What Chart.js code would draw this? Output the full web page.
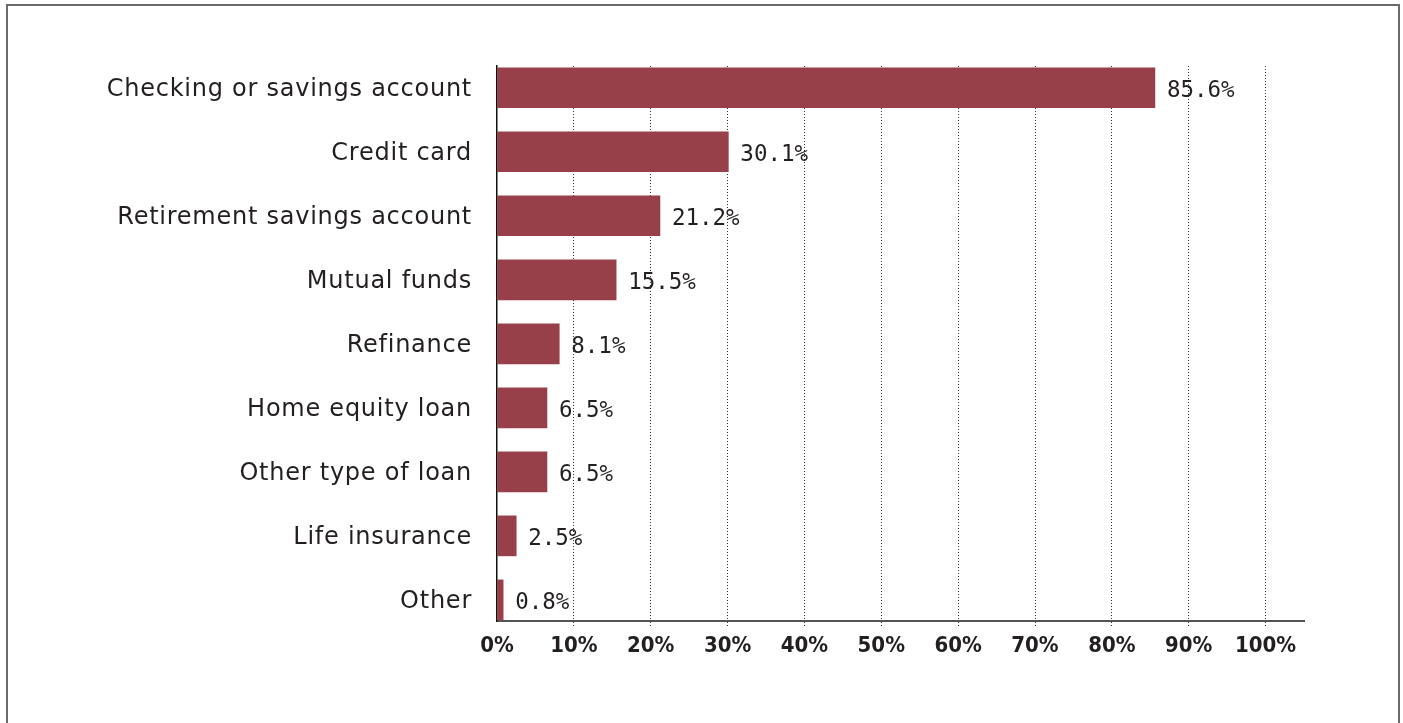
<!DOCTYPE html>
<html>
<head>
<meta charset="utf-8">
<script src="https://cdn.jsdelivr.net/npm/chart.js@4"></script>
<style>
  html, body { margin: 0; padding: 0; background: #fff; }
  body { width: 1403px; height: 723px; position: relative; overflow: hidden; }
  #frame {
    position: absolute; left: 6px; top: 4px; width: 1394px; height: 730px;
    border: 2px solid #6b6b6b; border-bottom: none; box-sizing: border-box;
  }
  #wrap { position: absolute; left: 0; top: 0; width: 1403px; height: 723px; }
</style>
</head>
<body>
<div id="frame"></div>
<div id="wrap"><canvas id="c" width="1403" height="723"></canvas></div>
<script>
// Products used, share of respondents (%)
const categories = [
  'Checking or savings account',
  'Credit card',
  'Retirement savings account',
  'Mutual funds',
  'Refinance',
  'Home equity loan',
  'Other type of loan',
  'Life insurance',
  'Other'
];
const shares = [85.6, 30.1, 21.2, 15.5, 8.1, 6.5, 6.5, 2.5, 0.8];
const tickValues = [0, 10, 20, 30, 40, 50, 60, 70, 80, 90, 100];

const BAR_COLOR = '#974049';
const TEXT_COLOR = '#231f20';
const GRID_COLOR = '#333333';

// Value labels drawn just past the end of each bar; afterwards the
// category labels (drawn in a later layer) get a slightly wider tracking.
const valueLabels = {
  id: 'valueLabels',
  afterDatasetsDraw(chart) {
    const { ctx } = chart;
    const meta = chart.getDatasetMeta(0);
    ctx.save();
    ctx.font = '22.5px "DejaVu Sans Mono", monospace';
    ctx.fillStyle = TEXT_COLOR;
    ctx.textAlign = 'left';
    ctx.textBaseline = 'middle';
    meta.data.forEach((bar, i) => {
      ctx.fillText(shares[i].toFixed(1) + '%', bar.x + 12, bar.y + 3);
    });
    ctx.restore();
    ctx.letterSpacing = '0.75px';
  },
  afterDraw(chart) {
    chart.ctx.letterSpacing = '0px';
  }
};

const points = shares.map((v, i) => ({ x: v, y: i }));
const hideZero = ctx => (ctx.tick && ctx.tick.value === 0) ? 'rgba(0,0,0,0)' : GRID_COLOR;

new Chart(document.getElementById('c'), {
  type: 'bar',
  data: {
    datasets: [{
      data: points,
      backgroundColor: BAR_COLOR,
      borderWidth: 0,
      barThickness: 40
    }]
  },
  options: {
    indexAxis: 'y',
    responsive: false,
    animation: false,
    events: [],
    layout: { padding: { left: 0, right: 99, top: 66, bottom: 40 } },
    plugins: { legend: { display: false }, tooltip: { enabled: false } },
    scales: {
      x: {
        type: 'linear',
        min: 0,
        max: 105,
        afterBuildTicks(scale) {
          scale.ticks = tickValues.map(v => ({ value: v }));
        },
        afterFit(scale) { scale.height = 62; },
        border: { display: true, color: '#555555', width: 2, dash: [1, 2] },
        grid: {
          color: hideZero,
          lineWidth: 1,
          drawTicks: true,
          tickLength: 7,
          tickColor: hideZero,
          tickBorderDash: [1, 2]
        },
        ticks: {
          padding: 5,
          color: TEXT_COLOR,
          font: { family: '"DejaVu Sans Condensed", "DejaVu Sans", sans-serif', size: 22, weight: 'bold' },
          callback: v => v + '%'
        }
      },
      y: {
        type: 'linear',
        reverse: true,
        offset: false,
        min: -0.34,
        max: 8.33,
        afterBuildTicks(scale) {
          scale.ticks = categories.map((_, i) => ({ value: i }));
        },
        afterFit(scale) { scale.width = 497; },
        border: { display: true, color: '#111111', width: 1.5 },
        grid: { display: false, drawTicks: false, offset: false },
        ticks: {
          z: 1,
          padding: 25,
          labelOffset: 2,
          color: TEXT_COLOR,
          font: { family: '"DejaVu Sans", sans-serif', size: 24 },
          callback: v => categories[v]
        }
      }
    }
  },
  plugins: [valueLabels]
});
</script>
</body>
</html>
